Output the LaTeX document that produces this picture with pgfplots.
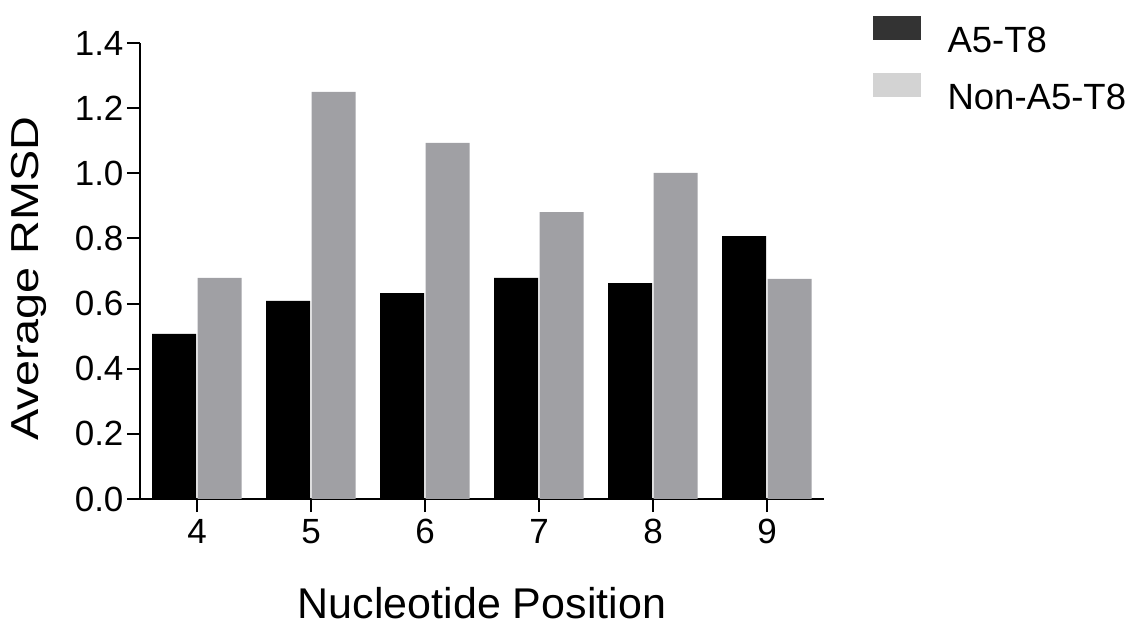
\documentclass[border=0pt]{standalone}
\usepackage{pgfplots}
\pgfplotsset{compat=1.18}
\usepackage{fontspec}
\setmainfont{Liberation Sans}
\newfontfamily\ylabfont[FakeStretch=1.2]{Liberation Sans}
\definecolor{bargray}{HTML}{A0A0A4}
\definecolor{legdark}{HTML}{333333}
\definecolor{leglight}{HTML}{D3D3D3}
\begin{document}
\begin{tikzpicture}
\path[use as bounding box] (0,0) rectangle (1134pt,628pt);
\begin{axis}[
  at={(140pt,129pt)}, anchor=south west,
  scale only axis, width=684pt, height=456pt,
  xmin=3.5, xmax=9.5, ymin=0, ymax=1.4,
  axis lines*=left,
  axis line style={line width=2pt, black},
  every tick/.style={line width=2pt, black},
  tick align=outside, major tick length=13pt,
  xtick={4,5,6,7,8,9},
  ytick={0,0.2,0.4,0.6,0.8,1.0,1.2,1.4},
  yticklabel style={/pgf/number format/.cd, fixed, fixed zerofill, precision=1},
  xticklabel style={yshift=-4pt},
  /pgf/number format/assume math mode=true,
  ticklabel style={font=\fontsize{35}{40}\selectfont},
  xlabel={Nucleotide Position},
  ylabel={Average RMSD},
  xlabel style={font=\fontsize{43}{50}\selectfont, inner sep=0pt, at={(axis description cs:0.5,-0.2346)}, anchor=center, yshift=3pt},
  ylabel style={font=\ylabfont\fontsize{39}{45}\selectfont, inner sep=0pt, at={(axis description cs:-0.1623,0.4836)}, anchor=center, rotate=0},
  legend style={draw=none, fill=none, at={(axis description cs:1.0716,1.0592)}, anchor=north west, inner sep=0pt,
    nodes={inner sep=0pt, font=\fontsize{36.5}{40}\selectfont, text height=25pt, text depth=0pt},
    row sep=20pt, column sep=27pt},
  legend cell align=left,
  clip=false,
]
\addlegendimage{legend image code/.code={\fill[legdark] (0pt,1pt) rectangle (47pt,24pt);}}
\addlegendentry{A5-T8}
\addlegendimage{legend image code/.code={\fill[leglight] (0pt,1pt) rectangle (47pt,24pt);}}
\addlegendentry{Non-A5-T8}
\addplot[ybar, bar width=44pt, bar shift=-23pt, fill=black, draw=none, forget plot] coordinates {
(4,0.507) (5,0.608) (6,0.632) (7,0.679) (8,0.663) (9,0.807)};
\addplot[ybar, bar width=44pt, bar shift=22.5pt, fill=bargray, draw=none, forget plot] coordinates {
(4,0.679) (5,1.250) (6,1.093) (7,0.881) (8,1.001) (9,0.676)};
\end{axis}
\end{tikzpicture}
\end{document}
